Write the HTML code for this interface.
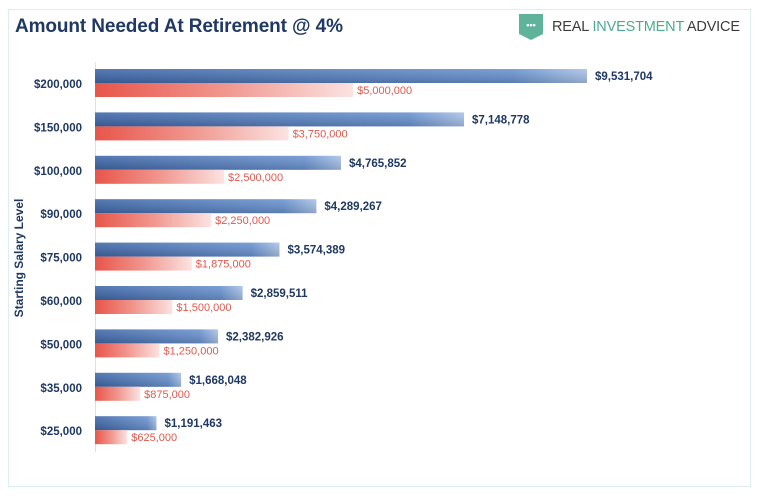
<!DOCTYPE html>
<html><head><meta charset="utf-8"><style>
body{margin:0;background:#fff;width:759px;height:496px;overflow:hidden;font-family:"Liberation Sans",sans-serif}
</style></head><body>
<svg width="759" height="496" xmlns="http://www.w3.org/2000/svg">
<defs>
<linearGradient id="gb" x1="0" y1="0" x2="1" y2="0"><stop offset="0" stop-color="#3f67a8"/><stop offset="0.85" stop-color="#6a93d0"/><stop offset="1" stop-color="#a9c2e8"/></linearGradient>
<linearGradient id="gbv" x1="0" y1="0" x2="0" y2="1"><stop offset="0" stop-color="#fff" stop-opacity="0.12"/><stop offset="1" stop-color="#000" stop-opacity="0.15"/></linearGradient>
<linearGradient id="gr" x1="0" y1="0" x2="1" y2="0"><stop offset="0" stop-color="#e8554a"/><stop offset="0.5" stop-color="#f0968e"/><stop offset="1" stop-color="#fbe3e1"/></linearGradient>
</defs>
<rect x="8.5" y="9.5" width="742" height="477" fill="#fff" stroke="#dcefee"/>
<text x="15" y="32" font-size="19" font-weight="bold" fill="#1f3864" textLength="328">Amount Needed At Retirement @ 4%</text>
<g>
<path d="M519 14 L543 14 L543 34 L531 40 L519 34 Z" fill="#5fb39a"/>
<text x="531" y="28" font-size="9" fill="#fff" text-anchor="middle" font-weight="bold">•••</text>
<text x="552" y="31" font-size="14.5" textLength="188"><tspan fill="#3c3c3c">REAL </tspan><tspan fill="#4bab8f">INVESTMENT </tspan><tspan fill="#3c3c3c">ADVICE</tspan></text>
</g>
<text transform="translate(23,258) rotate(-90)" font-size="12" font-weight="bold" fill="#1f3864" text-anchor="middle">Starting Salary Level</text>
<line x1="95.5" y1="62" x2="95.5" y2="452" stroke="#e0e0e0"/>
<g id="bars"></g>
</svg>
<script>
const categories=["$200,000","$150,000","$100,000","$90,000","$75,000","$60,000","$50,000","$35,000","$25,000"];
const neededValues=[9531704,7148778,4765852,4289267,3574389,2859511,2382926,1668048,1191463];
const salaryValues=[5000000,3750000,2500000,2250000,1875000,1500000,1250000,875000,625000];
const g=document.getElementById('bars');
const NS='http://www.w3.org/2000/svg';
const x0=95, xs=492/9531704;
function xScale(v){return x0+v*xs;}
function yScale(i){return 84+i*43.4;}
function fmt(v){return '$'+v.toLocaleString('en-US');}
function mk(tag,attrs){const e=document.createElementNS(NS,tag);for(const k in attrs)e.setAttribute(k,attrs[k]);g.appendChild(e);return e;}
categories.forEach((c,i)=>{
  const cy=yScale(i);
  const t=mk('text',{x:82,y:cy+4,'font-size':11.5,'font-weight':'bold',fill:'#1f3864','text-anchor':'end'});
  t.textContent=c;
  
  
  const wb=xScale(neededValues[i])-x0;
  const b=mk('rect',{x:x0,y:cy-15,width:wb,height:14,fill:'url(#gb)'});
  
  
  mk('rect',{x:x0,y:cy-15,width:wb,height:14,fill:'url(#gbv)'});
  const wr=xScale(salaryValues[i])-x0;
  const r=mk('rect',{x:x0,y:cy-1,width:wr,height:14,fill:'url(#gr)'});
  
  
  const lb=mk('text',{x:x0+wb+8,y:cy-4,'font-size':11.5,'font-weight':'bold',fill:'#1f3864'});
  lb.textContent=fmt(neededValues[i]);
  
  
  const lr=mk('text',{x:x0+wr+4,y:cy+10,'font-size':11,fill:'#e8554a'});
  lr.textContent=fmt(salaryValues[i]);
  
  
});
</script>
</body></html>
